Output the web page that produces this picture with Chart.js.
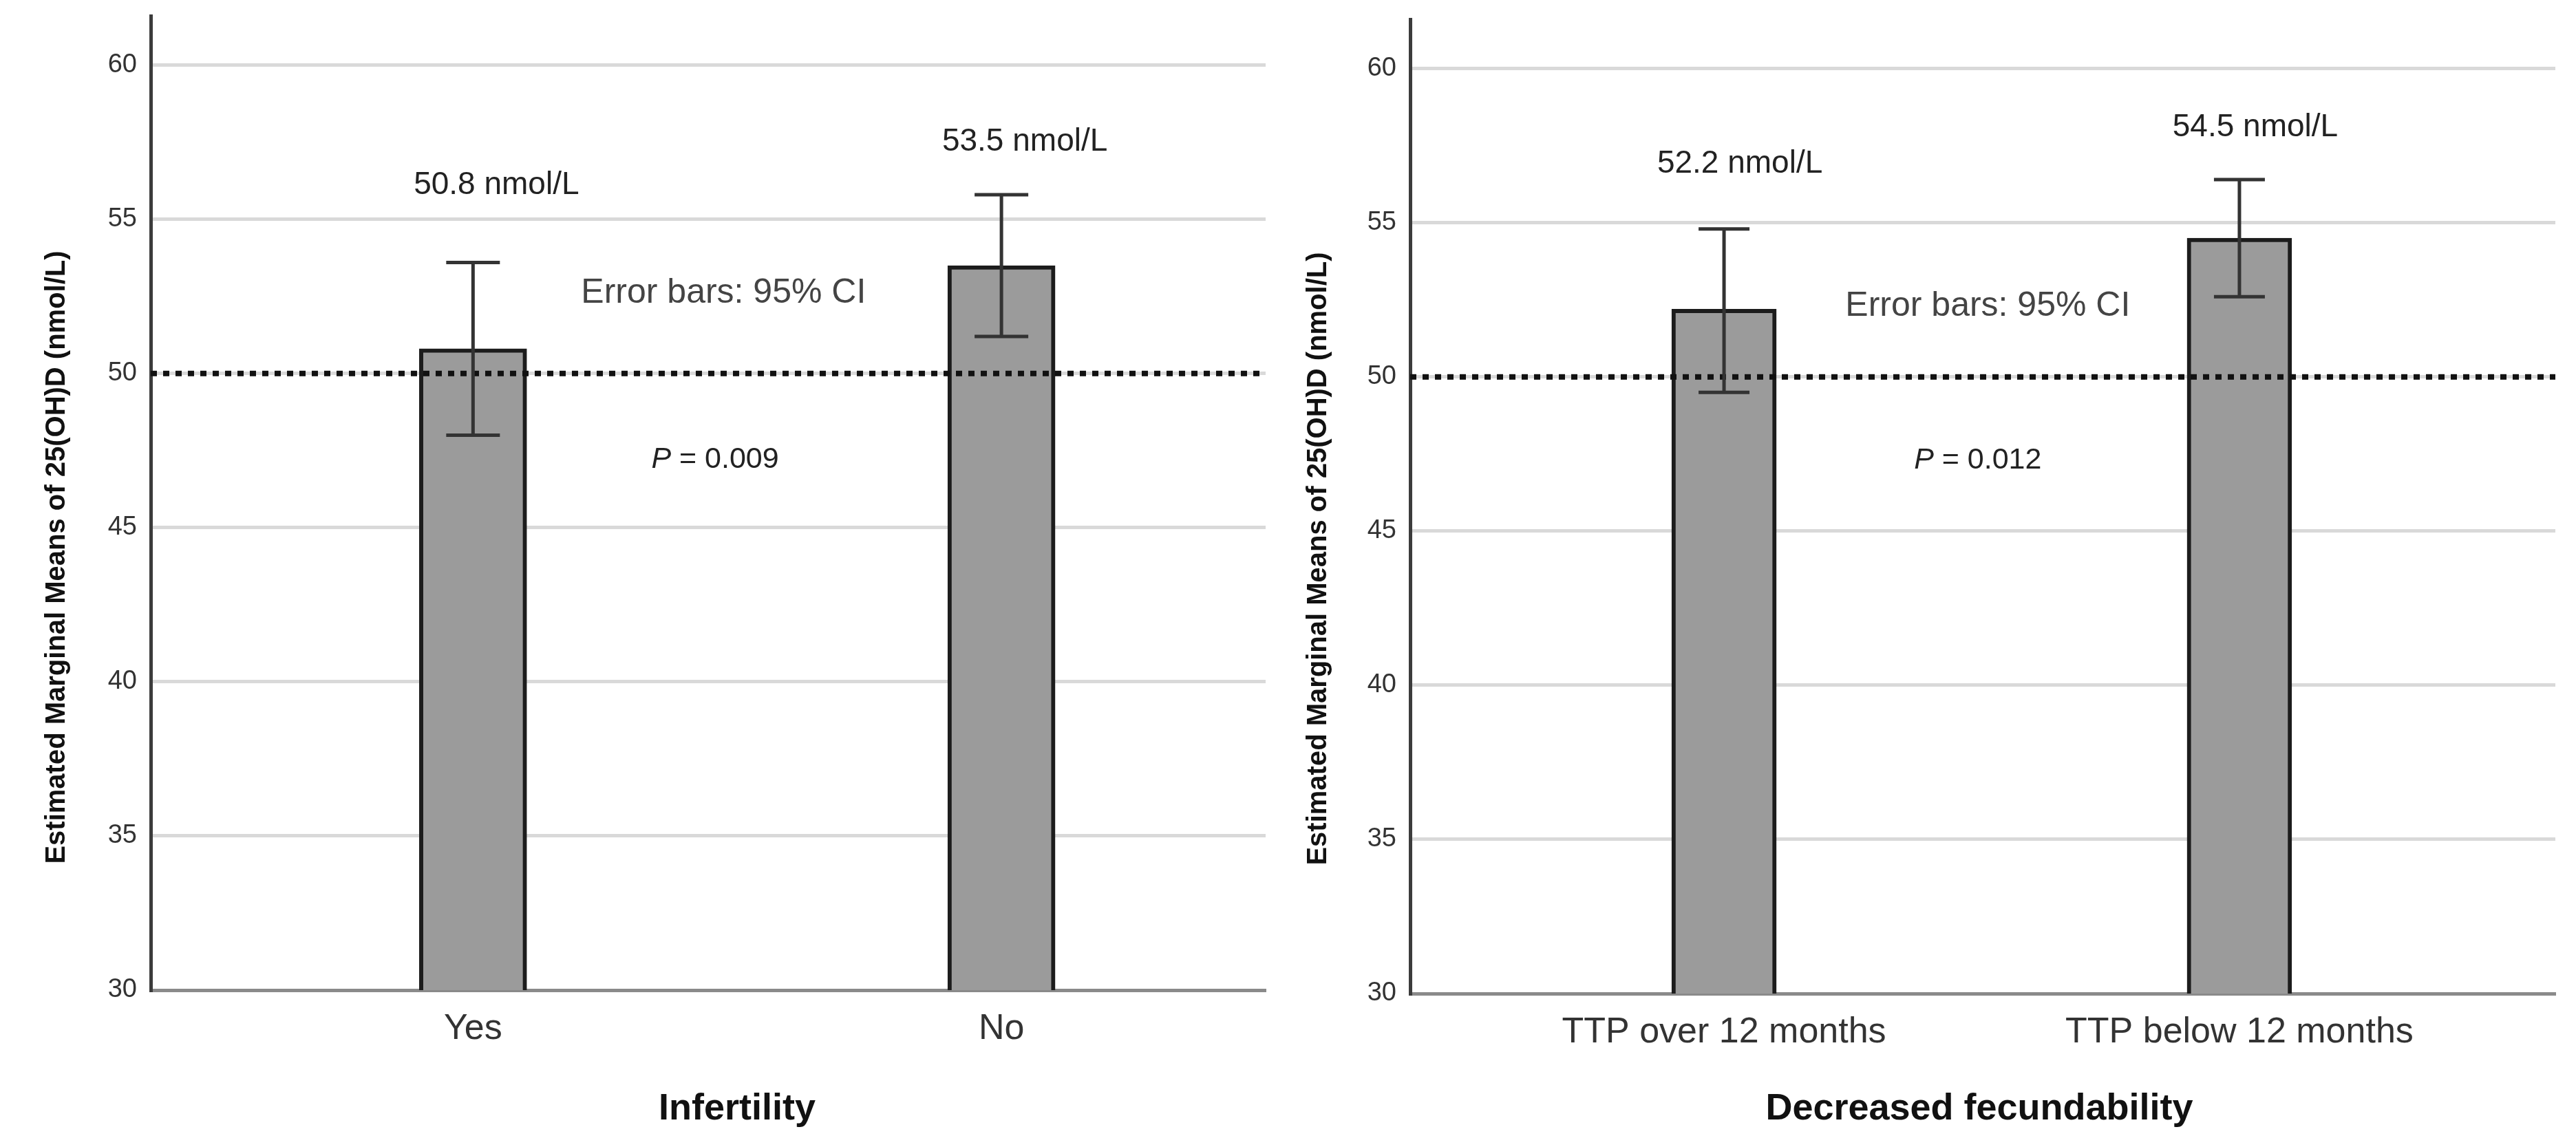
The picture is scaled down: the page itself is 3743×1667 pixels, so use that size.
<!DOCTYPE html>
<html>
<head>
<meta charset="utf-8">
<title>25(OH)D by infertility and fecundability</title>
<script src="https://cdn.jsdelivr.net/npm/chart.js@4.4.0/dist/chart.umd.min.js"></script>
<style>
  html, body { margin: 0; padding: 0; background: #fff; }
  body { width: 3743px; height: 1667px; position: relative; overflow: hidden; }
  .box { position: absolute; top: 0; height: 1667px; }
  #left { left: 0; width: 1880px; }
  #right { left: 1870px; width: 1873px; }
</style>
</head>
<body>
<div class="box" id="left"><canvas id="chartLeft"></canvas></div>
<div class="box" id="right"><canvas id="chartRight"></canvas></div>
<script>
// infertility panel
const infCats = ['Yes', 'No'];
const infMeans = [50.8, 53.5];
const infLow = [48.0, 51.2];
const infHigh = [53.6, 55.8];
const infLabels = ['50.8 nmol/L', '53.5 nmol/L'];
const infP = '0.009';

// decreased fecundability panel
const fecCats = ['TTP over 12 months', 'TTP below 12 months'];
const fecMeans = [52.2, 54.5];
const fecLow = [49.5, 52.6];
const fecHigh = [54.8, 56.4];
const fecLabels = ['52.2 nmol/L', '54.5 nmol/L'];
const fecP = '0.012';

const yTicks = [30, 35, 40, 45, 50, 55, 60];
const cutoff = 50;
const yTitle = 'Estimated Marginal Means of 25(OH)D (nmol/L)';

const FAMILY = "'Liberation Sans', Arial, sans-serif";

// dotted cut-off, CI whiskers and the text notes
const extras = {
  id: 'extras',
  afterDatasetsDraw(chart, args, o) {
    const {ctx, chartArea: a} = chart;
    const x = chart.scales.x, y = chart.scales.y;
    ctx.save();

    const yc = y.getPixelForValue(cutoff);
    ctx.strokeStyle = '#111';
    ctx.lineWidth = 8;
    ctx.setLineDash([9, 9]);
    ctx.beginPath();
    ctx.moveTo(a.left, yc);
    ctx.lineTo(a.right, yc);
    ctx.stroke();
    ctx.setLineDash([]);

    ctx.strokeStyle = '#333';
    ctx.lineWidth = 5;
    o.low.forEach((lo, i) => {
      const px = x.getPixelForValue(i + 1);
      const y1 = y.getPixelForValue(lo);
      const y2 = y.getPixelForValue(o.high[i]);
      ctx.beginPath();
      ctx.moveTo(px, y1); ctx.lineTo(px, y2);
      ctx.moveTo(px - o.cap, y1); ctx.lineTo(px + o.cap, y1);
      ctx.moveTo(px - o.cap, y2); ctx.lineTo(px + o.cap, y2);
      ctx.stroke();
    });

    ctx.fillStyle = '#222';
    ctx.font = '46px ' + FAMILY;
    ctx.textAlign = 'center';
    ctx.textBaseline = 'middle';
    o.labels.forEach((t, i) => {
      ctx.fillText(t, x.getPixelForValue(i + 1) + o.labelDx, y.getPixelForValue(o.labelY[i]));
    });

    ctx.fillStyle = '#444';
    ctx.font = '50px ' + FAMILY;
    ctx.textAlign = 'left';
    ctx.fillText('Error bars: 95% CI', a.left + a.width * o.noteX, y.getPixelForValue(o.noteY));

    const px0 = a.left + a.width * o.pX;
    const py = y.getPixelForValue(o.pY);
    ctx.fillStyle = '#222';
    ctx.font = 'italic 43px ' + FAMILY;
    ctx.fillText('P', px0, py);
    const w = ctx.measureText('P').width;
    ctx.font = '43px ' + FAMILY;
    ctx.fillText(' = ' + o.p, px0 + w, py);

    ctx.restore();
  },
  // axis titles sit a little off-centre in the original, so they are placed here
  afterDraw(chart, args, o) {
    const ctx = chart.ctx;
    ctx.save();
    ctx.fillStyle = '#111';
    ctx.textAlign = 'center';
    ctx.textBaseline = 'middle';
    ctx.font = 'bold 54px ' + FAMILY;
    ctx.fillText(o.xTitle, o.xTitleAt[0], o.xTitleAt[1]);
    ctx.translate(o.yTitleAt[0], o.yTitleAt[1]);
    ctx.rotate(-Math.PI / 2);
    ctx.font = 'bold 40px ' + FAMILY;
    ctx.fillText(yTitle, 0, 0);
    ctx.restore();
  }
};

function makeChart(id, cats, means, cfg) {
  return new Chart(document.getElementById(id), {
    type: 'bar',
    data: {
      datasets: [{
        data: means.map((v, i) => ({x: i + 1, y: v})),
        backgroundColor: '#9b9b9b',
        borderColor: '#1c1c1c',
        borderWidth: 6,
        borderSkipped: false,
        barThickness: cfg.barWidth
      }]
    },
    options: {
      responsive: true,
      maintainAspectRatio: false,
      animation: false,
      layout: {padding: cfg.pad},
      plugins: {
        legend: {display: false},
        tooltip: {enabled: false},
        extras: cfg.notes
      },
      scales: {
        x: {
          type: 'linear',
          min: cfg.xMin,
          max: cfg.xMax,
          offset: false,
          grid: {display: false, drawTicks: false},
          border: {display: true, color: '#8a8a8a', width: 5},
          afterBuildTicks: s => { s.ticks = cats.map((c, i) => ({value: i + 1})); },
          afterFit: s => { s.height = cfg.xHeight; s.paddingLeft = 0; s.paddingRight = 0; },
          ticks: {
            callback: v => cats[v - 1] ?? '',
            font: {family: FAMILY, size: 52},
            color: '#333',
            padding: 25,
            maxRotation: 0,
            autoSkip: false
          }
        },
        y: {
          min: 30,
          max: 61.6,
          beginAtZero: false,
          grid: {color: '#d9d9d9', lineWidth: 5, drawTicks: false},
          border: {display: true, color: '#3c3c3c', width: 5},
          afterBuildTicks: s => { s.ticks = yTicks.map(v => ({value: v})); },
          afterFit: s => { s.width = cfg.yWidth; s.paddingTop = 0; s.paddingBottom = 0; },
          ticks: {font: {family: FAMILY, size: 38}, color: '#333', padding: 20}
        }
      }
    },
    plugins: [extras]
  });
}

makeChart('chartLeft', infCats, infMeans, {
  pad: {left: 59, top: 23, right: 41, bottom: 0},
  xMin: 0.39, xMax: 2.5,
  xHeight: 228, yWidth: 160,
  barWidth: 156,
  notes: {
    low: infLow, high: infHigh, cap: 39,
    labels: infLabels, labelY: [56.1, 57.5], labelDx: 34,
    noteX: 0.386, noteY: 52.6,
    pX: 0.449, pY: 47.2, p: infP,
    xTitle: 'Infertility', xTitleAt: [1071, 1612],
    yTitleAt: [83, 810]
  }
});

makeChart('chartRight', fecCats, fecMeans, {
  pad: {left: 21, top: 28, right: 30, bottom: 0},
  xMin: 0.391, xMax: 2.613,
  xHeight: 223, yWidth: 158,
  barWidth: 152,
  notes: {
    low: fecLow, high: fecHigh, cap: 37,
    labels: fecLabels, labelY: [56.9, 58.1], labelDx: 23,
    noteX: 0.380, noteY: 52.3,
    pX: 0.44, pY: 47.3, p: fecP,
    xTitle: 'Decreased fecundability', xTitleAt: [1006, 1612],
    yTitleAt: [46, 812]
  }
});
</script>
</body>
</html>
